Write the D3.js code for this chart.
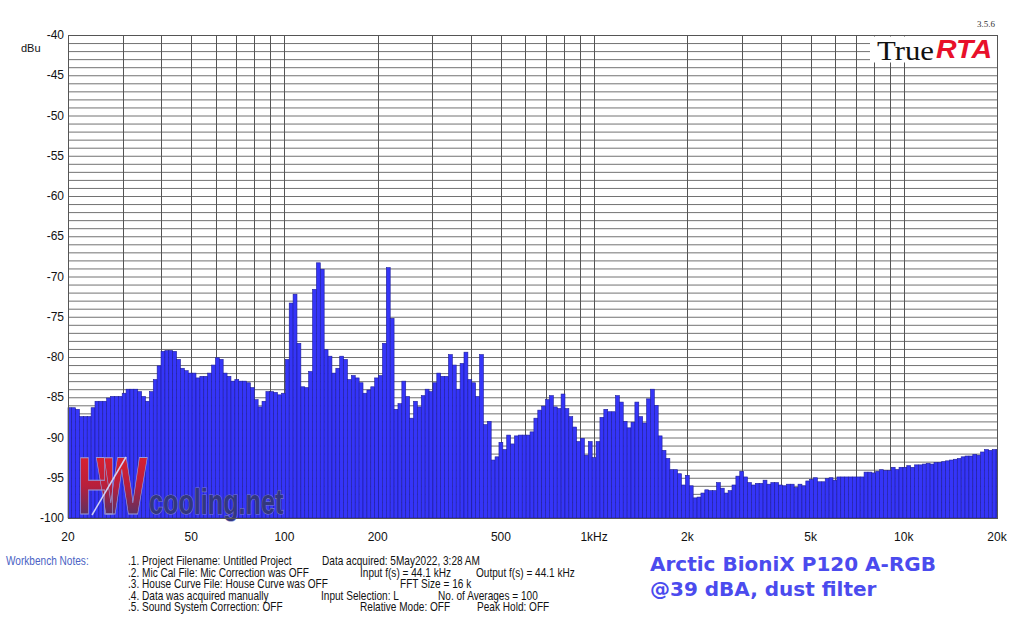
<!DOCTYPE html>
<html>
<head>
<meta charset="utf-8">
<script src="https://cdn.jsdelivr.net/npm/d3@7"></script>
<style>
  body { margin: 0; background: #fff; }
  svg { display: block; }
</style>
</head>
<body>
<svg id="chart" width="1024" height="624" font-family="'Liberation Sans', Arial, sans-serif"></svg>
<script>
// 1/24-octave band levels in dBu, 20 Hz .. 20 kHz
const levels = [
  -86.3, -86.3, -86.5, -87.4, -87.4, -87.4, -86.3, -85.5, -85.5, -85.5,
  -85.1, -84.9, -84.9, -84.9, -84.5, -84.0, -84.0, -84.0, -84.3, -84.9,
  -85.5, -84.3, -82.8, -81.1, -79.3, -79.2, -79.2, -79.3, -80.3, -81.4,
  -81.7, -82.0, -82.0, -82.6, -82.4, -82.4, -82.0, -81.0, -80.1, -80.3,
  -82.0, -82.4, -83.0, -82.8, -83.0, -83.0, -83.2, -83.8, -85.3, -86.2,
  -85.5, -84.3, -84.3, -84.4, -84.7, -84.5, -80.3, -73.3, -72.2, -78.3,
  -83.7, -83.8, -81.8, -71.6, -68.3, -69.1, -79.1, -79.9, -82.0, -81.4,
  -79.9, -80.3, -82.8, -82.3, -82.6, -83.2, -84.5, -84.1, -83.7, -82.6,
  -82.3, -78.3, -68.9, -75.2, -86.5, -85.8, -83.0, -84.9, -87.6, -85.5,
  -86.2, -84.8, -84.0, -84.3, -83.2, -82.0, -82.4, -82.4, -79.7, -81.0,
  -84.0, -80.8, -79.4, -82.8, -83.2, -84.9, -79.7, -88.4, -88.0, -92.8,
  -92.4, -90.6, -91.5, -89.7, -90.8, -89.8, -89.7, -89.7, -89.7, -89.3,
  -87.6, -86.6, -86.1, -85.3, -84.8, -86.2, -86.4, -84.6, -86.4, -87.4,
  -88.7, -90.5, -90.1, -92.2, -90.5, -92.5, -90.5, -87.5, -86.5, -86.8,
  -86.8, -84.8, -85.6, -88.0, -88.8, -88.1, -85.6, -87.4, -88.2, -85.2,
  -84.0, -86.0, -89.8, -91.6, -92.6, -94.0, -94.0, -94.5, -95.9, -94.7,
  -96.0, -97.5, -97.4, -96.9, -96.5, -96.6, -96.6, -95.6, -96.3, -96.9,
  -96.6, -95.9, -94.8, -94.2, -94.9, -95.6, -95.9, -95.7, -95.7, -95.3,
  -95.8, -95.6, -95.6, -95.9, -96.0, -95.8, -95.8, -96.2, -95.8, -96.0,
  -95.4, -95.2, -95.0, -95.5, -95.5, -95.1, -95.0, -95.3, -94.9, -94.9,
  -94.9, -94.9, -94.9, -94.9, -94.9, -94.3, -94.3, -94.4, -94.2, -94.0,
  -94.1, -94.1, -93.7, -94.0, -93.7, -93.7, -93.5, -93.7, -93.4, -93.4,
  -93.3, -93.2, -93.3, -93.1, -93.1, -93.0, -92.9, -92.8, -92.7, -92.6,
  -92.4, -92.3, -92.3, -92.1, -92.2, -91.8, -91.5, -91.6, -91.5, -91.5
];
// band numbers relative to 1 kHz, in 1/24 octave steps
const bandSteps = d3.range(-135, 105);

const yTicks = [-40, -45, -50, -55, -60, -65, -70, -75, -80, -85, -90, -95, -100];
const xTicks = [20, 50, 100, 200, 500, 1000, 2000, 5000, 10000, 20000];
const xTickLabels = ["20", "50", "100", "200", "500", "1kHz", "2k", "5k", "10k", "20k"];
const xGrid = [20, 30, 40, 50, 60, 70, 80, 90, 100, 200, 300, 400, 500, 600, 700, 800, 900,
  1000, 2000, 3000, 4000, 5000, 6000, 7000, 8000, 9000, 10000, 20000];

const notesLeft = [
  ".1. Project Filename: Untitled Project",
  ".2. Mic Cal File: Mic Correction was OFF",
  ".3. House Curve File: House Curve was OFF",
  ".4. Data was acquired manually",
  ".5. Sound System Correction: OFF"
];
const notesMid = [
  ["Data acquired: 5May2022, 3:28 AM", 322],
  ["Input f(s) = 44.1 kHz", 360],
  ["FFT Size = 16 k", 400],
  ["Input Selection: L", 321],
  ["Relative Mode:  OFF", 360]
];
const notesRight = [
  ["", 0],
  ["Output f(s) = 44.1 kHz", 476],
  ["", 0],
  ["No. of Averages = 100", 438],
  ["Peak Hold: OFF", 477]
];
const titleLines = ["Arctic BioniX P120 A-RGB", "@39 dBA, dust filter"];

/* Set up */
/* ====== */
const svg = d3.select("#chart");
const plotLeft = 68, plotRight = 997, plotTop = 35, plotBottom = 518;

const x = d3.scaleLog().domain([20, 20000]).range([plotLeft, plotRight]);
const y = d3.scaleLinear().domain([-100, -40]).range([plotBottom, plotTop]);

const bands = bandSteps.map((n, i) => {
  const fc = 1000 * Math.pow(2, n / 24);
  return {
    lo: Math.max(20, fc * Math.pow(2, -1 / 48)),
    hi: Math.min(20000, fc * Math.pow(2, 1 / 48)),
    v: levels[i]
  };
});

// grid
const grid = svg.append("g");
grid.selectAll("line.h")
  .data(d3.range(-100, -39))
  .join("line")
  .attr("x1", plotLeft).attr("x2", plotRight)
  .attr("y1", d => y(d) + 0.5).attr("y2", d => y(d) + 0.5)
  .attr("stroke", "#727272").attr("stroke-width", 1);
grid.selectAll("line.v")
  .data(xGrid)
  .join("line")
  .attr("x1", d => Math.round(x(d)) + 0.5).attr("x2", d => Math.round(x(d)) + 0.5)
  .attr("y1", plotTop).attr("y2", plotBottom)
  .attr("stroke", "#555").attr("stroke-width", 1);

// bars
svg.append("g")
  .selectAll("rect")
  .data(bands)
  .join("rect")
  .attr("x", d => x(d.lo))
  .attr("width", d => x(d.hi) - x(d.lo))
  .attr("y", d => y(d.v))
  .attr("height", d => y(-100) - y(d.v))
  .attr("fill", "#3535f8")
  .attr("stroke", "#1d1d9a")
  .attr("stroke-width", 0.6);

// watermark logo (approximation)
const defs = svg.append("defs");
const grad = defs.append("linearGradient")
  .attr("id", "hw").attr("x1", 0).attr("y1", 0).attr("x2", 0).attr("y2", 1);
grad.append("stop").attr("offset", "0%").attr("stop-color", "#ec2228");
grad.append("stop").attr("offset", "50%").attr("stop-color", "#b81f3c");
grad.append("stop").attr("offset", "100%").attr("stop-color", "#263c78");

const logo = svg.append("g");
logo.append("text")
  .attr("transform", "translate(77,514) scale(0.66,1)")
  .attr("font-weight", "bold")
  .attr("font-size", 82)
  .attr("letter-spacing", -30)
  .attr("fill", "url(#hw)")
  .attr("stroke", "#9a9ad8").attr("stroke-width", 1)
  .text("HW");
logo.append("line")
  .attr("x1", 92).attr("y1", 515).attr("x2", 126).attr("y2", 457)
  .attr("stroke", "#d0d0f4").attr("stroke-width", 1.5);
logo.append("text")
  .attr("transform", "translate(149,514) scale(0.7,1)")
  .attr("font-weight", "bold")
  .attr("font-size", 36)
  .attr("fill", "#33387e")
  .attr("stroke", "#7c7cc8").attr("stroke-width", 1.2)
  .attr("paint-order", "stroke")
  .text("cooling.net");

// frame
svg.append("rect")
  .attr("x", plotLeft + 0.5).attr("y", plotTop + 0.5)
  .attr("width", plotRight - plotLeft).attr("height", plotBottom - plotTop)
  .attr("fill", "none").attr("stroke", "#555").attr("stroke-width", 1);

// TrueRTA badge
svg.append("rect")
  .attr("x", 870).attr("y", plotTop + 1.5).attr("width", plotRight - 870).attr("height", 26)
  .attr("fill", "#fff");
svg.append("text")
  .attr("x", 877).attr("y", 60)
  .attr("font-family", "'Liberation Serif', 'Times New Roman', serif")
  .attr("font-size", 28)
  .attr("textLength", 57).attr("lengthAdjust", "spacingAndGlyphs")
  .attr("fill", "#111")
  .text("True");
svg.append("text")
  .attr("x", 936).attr("y", 58)
  .attr("font-weight", "bold").attr("font-style", "italic")
  .attr("font-size", 25)
  .attr("textLength", 56).attr("lengthAdjust", "spacingAndGlyphs")
  .attr("fill", "#e8102a")
  .text("RTA");
svg.append("text")
  .attr("x", 995).attr("y", 27)
  .attr("text-anchor", "end")
  .attr("font-family", "'Liberation Serif', serif")
  .attr("font-size", 9)
  .attr("fill", "#333")
  .text("3.5.6");

// axes labels
svg.append("g")
  .selectAll("text")
  .data(yTicks)
  .join("text")
  .attr("x", 64).attr("y", d => y(d) + 4)
  .attr("text-anchor", "end")
  .attr("font-size", 12)
  .attr("fill", "#111")
  .text(d => d);
svg.append("text")
  .attr("x", 21).attr("y", 52)
  .attr("font-size", 11).attr("fill", "#111")
  .text("dBu");

svg.append("g")
  .selectAll("text")
  .data(xTicks)
  .join("text")
  .attr("x", d => x(d)).attr("y", 541)
  .attr("text-anchor", "middle")
  .attr("font-size", 12)
  .attr("fill", "#111")
  .text((d, i) => xTickLabels[i]);

// workbench notes (condensed by horizontal scaling)
const squeeze = 0.84;
const noteY = i => 565 + i * 11.6;
const noteText = (g, t, nx, ny) => g.append("text")
  .attr("transform", `translate(${nx},${ny}) scale(${squeeze},1)`)
  .text(t);
const notes = svg.append("g")
  .attr("font-size", 12).attr("fill", "#111");
noteText(notes, "Workbench Notes:", 6, noteY(0)).attr("fill", "#4a62c4");
notesLeft.forEach((t, i) => {
  noteText(notes, t, 128, noteY(i));
  if (notesMid[i][0]) noteText(notes, notesMid[i][0], notesMid[i][1], noteY(i));
  if (notesRight[i][0]) noteText(notes, notesRight[i][0], notesRight[i][1], noteY(i));
});

// title
svg.append("g")
  .selectAll("text")
  .data(titleLines)
  .join("text")
  .attr("x", 650).attr("y", (d, i) => 571 + i * 25)
  .attr("font-family", "'DejaVu Sans', Verdana, sans-serif")
  .attr("font-weight", "bold")
  .attr("font-size", 20)
  .attr("fill", "#4b4bee")
  .text(d => d);
</script>
</body>
</html>
